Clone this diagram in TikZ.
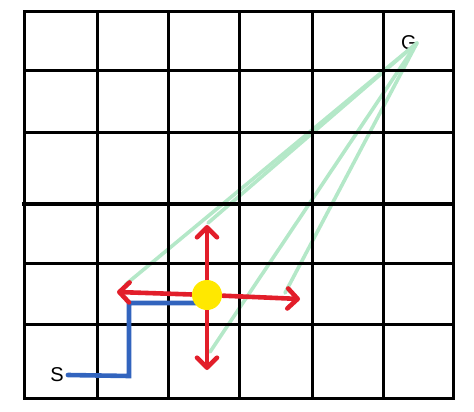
\documentclass[tikz,border=0pt]{standalone}
\usepackage{fontspec}
\setmainfont{Liberation Sans}
\usetikzlibrary{arrows.meta, positioning}
\definecolor{moveRed}{RGB}{226,30,42}
\definecolor{routeBlue}{RGB}{50,100,190}
\definecolor{guessGreen}{RGB}{180,232,200}
\definecolor{agentYellow}{RGB}{255,232,0}

\begin{document}
\begin{tikzpicture}[
        x=1pt,y=-1pt,>={Straight Barb[length=10pt,width=20pt,line join=round,line cap=round]},
        gridline/.style={line width=3pt,line cap=rect},
        nbarrow/.style={->,draw=moveRed,line width=4.6pt},
        route/.style={draw=routeBlue,line width=4.6pt,line cap=round},
        guess/.style={draw=guessGreen,line width=3.6pt,line cap=round},
        agent/.style={circle,fill=agentYellow,minimum size=30pt,inner sep=0pt},
        letter/.style={font=\fontsize{20}{20}\selectfont,inner sep=0pt},
        ]
        \useasboundingbox (0,0) rectangle (474,412);

        % start, goal and where the guesses end
        \node[letter]                   (s) at (57,375)         {S};
        \node[letter]                   (g) at (409,43)         {G};
        \coordinate (hleft)  at (125,285);
        \coordinate (hup)    at (208,223);
        \coordinate (hright) at (285,293);
        \coordinate (hdown)  at (210,352);

        \draw[guess] (g.east) -- (hleft);
        \draw[guess] (g.east) -- (hup);
        \draw[guess] (g.east) -- (hright);
        \draw[guess] (g.east) -- (hdown);

        % the grid
        \foreach \x in {24,97,168,239,312,383,453}
          \draw[gridline] (\x,12) -- (\x,398);
        \foreach \y in {12,71,132,263,324,398}
          \draw[gridline] (24,\y) -- (453,\y);
        \draw[gridline,line width=4.2pt] (24,204) -- (453,204);

        % path so far
        \coordinate (turna) at (129,376);
        \coordinate (turnb) at (129,303);
        \coordinate (enter) at (196,303);
        \draw[route] (s.east) ++(4,0) -- (turna) -- (turnb) -- (enter);

        % current cell and its moves
        \node[agent]                    (dot) at (207,295)      {};
        \coordinate (up)    at (207,225);
        \coordinate (down)  at (207,370);
        \coordinate (left)  at (117,292);
        \coordinate (right) at (300,299);

        \path[nbarrow] (dot) edge (up) edge (down) edge (left) edge (right);
      \end{tikzpicture}
\end{document}
